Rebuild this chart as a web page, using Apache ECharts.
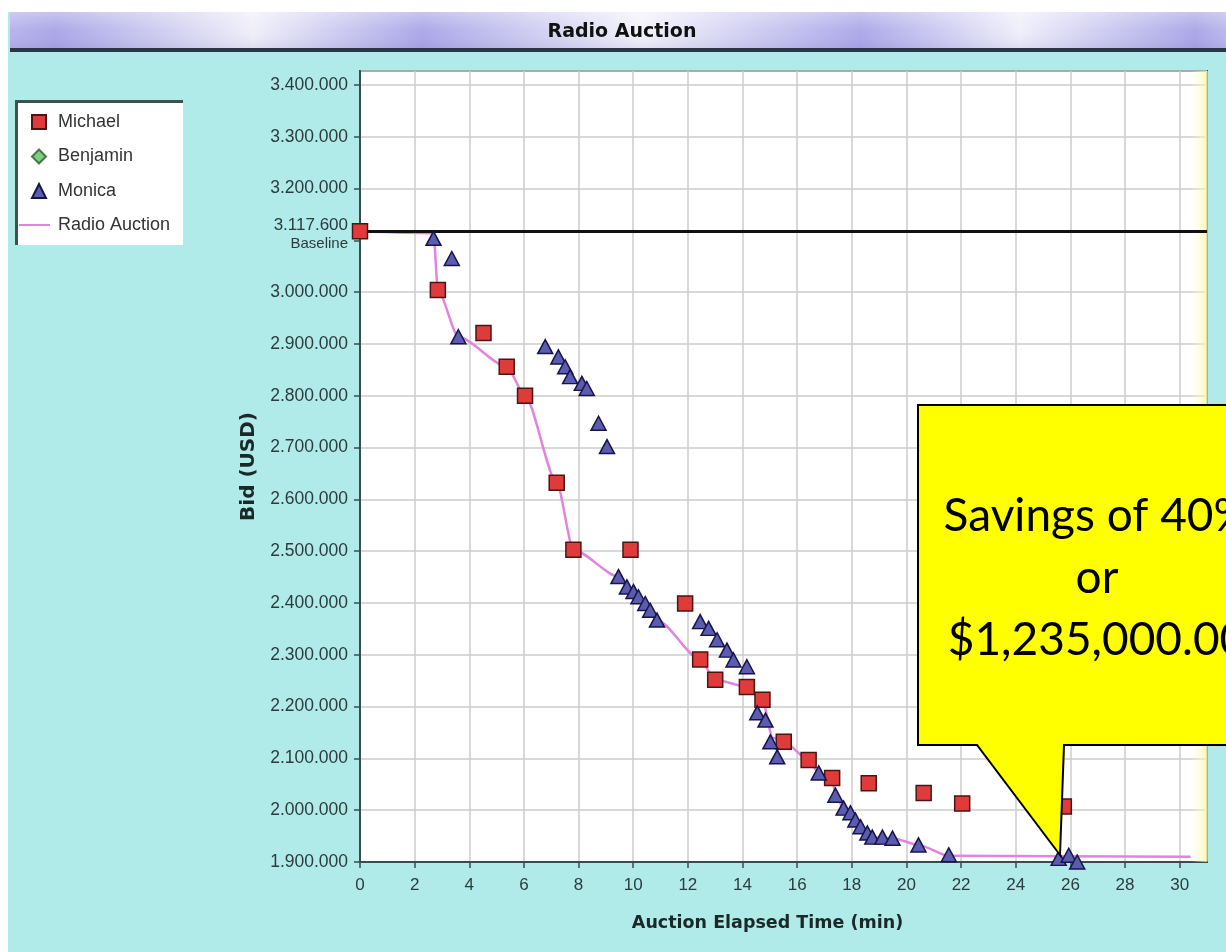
<!DOCTYPE html>
<html>
<head>
<meta charset="utf-8">
<script src="https://cdn.jsdelivr.net/npm/echarts@6/dist/echarts.min.js"></script>
<style>
html,body{margin:0;padding:0;background:#b0ebe9;}
#chart{width:1226px;height:952px;}
</style>
</head>
<body>
<div id="chart"></div>
<script>
// ---- data ----
const chartTitle = 'Radio Auction';
const seriesNames = ['Michael', 'Benjamin', 'Monica', 'Radio Auction'];
const baselineBid = 3117600;
const hiddenTick = 3100000; // tick hidden behind the baseline label in the reference
// [elapsed minutes, bid USD]
const michaelBids = [
  [0, 3117600], [2.85, 3004000], [4.52, 2921000], [5.37, 2856000], [6.04, 2800000],
  [7.2, 2632000], [7.81, 2503000], [9.9, 2503000], [11.9, 2399000], [12.45, 2291000],
  [13.0, 2252000], [14.16, 2238000], [14.73, 2213000], [15.51, 2132000], [16.42, 2097000],
  [17.28, 2062000], [18.62, 2052000], [20.63, 2033000], [22.04, 2013000], [25.76, 2007000]
];
const benjaminBids = [];
const monicaBids = [
  [2.69, 3104000], [3.36, 3065000], [3.6, 2914000], [6.78, 2895000], [7.26, 2875000],
  [7.51, 2856000], [7.69, 2837000], [8.12, 2824000], [8.3, 2814000], [8.73, 2747000],
  [9.04, 2702000], [9.46, 2451000], [9.77, 2431000], [10.01, 2422000], [10.19, 2412000],
  [10.44, 2399000], [10.62, 2386000], [10.87, 2367000], [12.45, 2364000], [12.76, 2351000],
  [13.07, 2329000], [13.43, 2309000], [13.67, 2290000], [14.16, 2277000], [14.54, 2188000],
  [14.84, 2174000], [15.02, 2132000], [15.27, 2103000], [16.79, 2072000], [17.4, 2029000],
  [17.7, 2004000], [17.95, 1995000], [18.13, 1981000], [18.32, 1968000], [18.57, 1956000],
  [18.75, 1948000], [19.12, 1948000], [19.49, 1946000], [20.44, 1933000], [21.55, 1914000],
  [25.57, 1907000], [25.94, 1913000], [26.25, 1900000]
];
const leadingBid = [
  [0, 3117600], [2.69, 3114000], [2.85, 3004000], [3.6, 2914000], [5.37, 2856000],
  [6.04, 2800000], [7.2, 2632000], [7.81, 2503000], [9.46, 2451000], [9.77, 2431000],
  [10.01, 2422000], [10.19, 2412000], [10.44, 2399000], [10.62, 2386000], [10.87, 2367000],
  [12.45, 2291000], [13.0, 2252000], [14.16, 2238000], [14.73, 2213000], [15.1, 2140000],
  [15.51, 2132000], [16.42, 2097000], [16.79, 2072000], [17.28, 2062000], [17.4, 2029000],
  [17.7, 2004000], [17.95, 1995000], [18.13, 1981000], [18.32, 1968000], [18.57, 1956000],
  [18.75, 1948000], [19.49, 1946000], [20.44, 1933000], [21.55, 1912000], [30.4, 1910000]
];
const xName = 'Auction Elapsed Time (min)';
const yName = 'Bid (USD)';
const calloutText = 'Savings of 40%\nor\n$1,235,000.00';

const yMin = 1900000, yMax = 3427000, yStep = 100000;

function dots(v) { return String(Math.round(v)).replace(/\B(?=(\d{3})+(?!\d))/g, '.'); }

// split line colours per tick index (the line under the baseline label is not drawn)
const ySplitColors = [];
for (let v = yMin; v <= yMax; v += yStep) ySplitColors.push(v === hiddenTick ? 'rgba(0,0,0,0)' : '#cdcdcd');
ySplitColors.push('#cdcdcd');

const chart = echarts.init(document.getElementById('chart'), null, {renderer: 'canvas'});
const labelColor = '#2c3c3c';
const legendText = {fontFamily: 'Liberation Sans', fontSize: 18, lineHeight: 20, color: '#333'};
const option = {
  animation: false,
  backgroundColor: '#b0ebe9',
  grid: {left: 360, right: 19, top: 71, bottom: 90, show: true, backgroundColor: '#ffffff',
         borderColor: '#3a4c4c', borderWidth: 2},
  legend: [
    {
      data: seriesNames.slice(0, 3), orient: 'vertical', left: 31, top: 112,
      itemWidth: 14, itemHeight: 14, itemGap: 14.5, padding: 0,
      textStyle: Object.assign({padding: [0, 0, 0, 7]}, legendText)
    },
    {
      data: [{name: seriesNames[3], icon: 'rect'}], orient: 'vertical', left: 19, top: 215,
      itemWidth: 31, itemHeight: 2, padding: 0,
      textStyle: Object.assign({padding: [0, 0, 0, 3]}, legendText)
    }
  ],
  xAxis: {
    type: 'value', min: 0, max: 31, interval: 2,
    name: xName, nameLocation: 'middle', nameGap: 52,
    nameTextStyle: {fontFamily: 'DejaVu Sans', fontWeight: 'bold', fontSize: 17.5, color: '#1b2828', padding: [0, 32, 0, 0]},
    axisLine: {lineStyle: {color: '#3a4c4c', width: 2}},
    axisTick: {length: 6, lineStyle: {color: '#3a4c4c', width: 1.5}},
    axisLabel: {showMaxLabel: false, margin: 15, fontFamily: 'Liberation Sans', fontSize: 17, color: labelColor},
    splitLine: {lineStyle: {color: '#cdcdcd', width: 1.5}}
  },
  yAxis: {
    type: 'value', min: yMin, max: yMax, interval: yStep,
    name: yName, nameLocation: 'middle', nameGap: 101,
    nameTextStyle: {fontFamily: 'DejaVu Sans', fontWeight: 'bold', fontSize: 20, color: '#1b2828'},
    axisLine: {show: true, lineStyle: {color: '#3a4c4c', width: 2}},
    axisTick: {show: true, length: 6, lineStyle: {color: '#3a4c4c', width: 1.5}},
    axisLabel: {showMaxLabel: false, margin: 12, fontFamily: 'Liberation Sans', fontSize: 17.5, color: labelColor,
                formatter: v => (v === hiddenTick ? '' : dots(v))},
    splitLine: {lineStyle: {color: ySplitColors, width: 1.5}}
  },
  series: [
    {
      name: seriesNames[0], type: 'scatter', data: michaelBids, z: 4,
      symbol: 'rect', symbolSize: 15,
      itemStyle: {color: '#e03b3b', borderColor: '#4a1515', borderWidth: 1.5, opacity: 1}
    },
    {
      name: seriesNames[1], type: 'scatter', data: benjaminBids, z: 4,
      symbol: 'diamond', symbolSize: 13,
      itemStyle: {color: '#5cc05c', borderColor: '#2a5a2a', borderWidth: 1}
    },
    {
      name: seriesNames[2], type: 'scatter', data: monicaBids, z: 5,
      symbol: 'triangle', symbolSize: [15, 14],
      itemStyle: {color: '#5b5cb0', borderColor: '#15154a', borderWidth: 1.5, opacity: 1}
    },
    {
      name: seriesNames[3], type: 'line', data: leadingBid, z: 2,
      symbol: 'none', smooth: 0.25, smoothMonotone: 'x',
      lineStyle: {color: '#e184e1', width: 2.5},
      itemStyle: {color: '#e184e1'},
      markArea: {
        silent: true,
        itemStyle: {color: {type: 'linear', x: 0, y: 0, x2: 1, y2: 0,
          colorStops: [{offset: 0, color: 'rgba(255,255,220,0)'}, {offset: 1, color: 'rgba(250,244,150,0.75)'}]}},
        data: [[{xAxis: 30.4}, {xAxis: 31}]]
      },
      markLine: {
        silent: true, symbol: ['none', 'none'], z: 3,
        lineStyle: {color: '#111', width: 3, type: 'solid'},
        label: {
          position: 'start', distance: 12, padding: [7, 0, 0, 0],
          formatter: '{a|' + dots(baselineBid) + '}\n{b|Baseline}',
          rich: {
            a: {fontFamily: 'Liberation Sans', fontSize: 17, color: labelColor, lineHeight: 18, align: 'right'},
            b: {fontFamily: 'Liberation Sans', fontSize: 15, color: labelColor, lineHeight: 18, align: 'right'}
          }
        },
        data: [{yAxis: baselineBid}]
      }
    }
  ],
  graphic: [
    // white margins
    {type: 'rect', shape: {x: 0, y: 0, width: 1226, height: 12}, style: {fill: '#ffffff'}, z: 1, silent: true},
    {type: 'rect', shape: {x: 0, y: 0, width: 8, height: 952}, style: {fill: '#ffffff'}, z: 1, silent: true},
    // title bar
    {type: 'rect', shape: {x: 10, y: 12, width: 1216, height: 37}, z: 1, silent: true,
     style: {fill: {type: 'linear', x: 0, y: 0, x2: 1, y2: 0, colorStops: [
       {offset: 0, color: '#b4b0ea'}, {offset: 0.037, color: '#a7a3e6'}, {offset: 0.2, color: '#efeef9'},
       {offset: 0.339, color: '#a8a4e7'}, {offset: 0.52, color: '#f3f2fb'}, {offset: 0.7, color: '#a9a5e8'},
       {offset: 0.83, color: '#efeefa'}, {offset: 0.975, color: '#a7a3e6'}, {offset: 1, color: '#b8b4eb'}]}}},
    {type: 'rect', shape: {x: 10, y: 12, width: 1216, height: 37}, z: 1, silent: true,
     style: {fill: {type: 'linear', x: 0, y: 0, x2: 0, y2: 1, colorStops: [
       {offset: 0, color: 'rgba(255,255,255,0.35)'}, {offset: 0.5, color: 'rgba(255,255,255,0.05)'},
       {offset: 1, color: 'rgba(120,120,180,0.15)'}]}}},
    {type: 'rect', shape: {x: 10, y: 48, width: 1216, height: 4}, style: {fill: '#2b3646'}, z: 1, silent: true},
    {type: 'text', x: 622, y: 32, z: 2, silent: true,
     style: {text: chartTitle, font: 'bold 19px "DejaVu Sans"', fill: '#111', align: 'center', verticalAlign: 'middle'}},
    // legend box
    {type: 'rect', shape: {x: 15, y: 100, width: 168, height: 145}, style: {fill: '#ffffff'}, z: 1, silent: true},
    {type: 'polyline', shape: {points: [[16.5, 245], [16.5, 101.5], [183, 101.5]]}, z: 1, silent: true,
     style: {stroke: '#3e5050', lineWidth: 3, fill: null}},
    // callout
    {type: 'polygon', z: 100, silent: true,
     shape: {points: [[918, 405], [1245, 405], [1245, 745], [1064, 745], [1060, 855], [977, 745], [918, 745]]},
     style: {fill: '#ffff00', stroke: '#000', lineWidth: 2}},
    {type: 'text', x: 1097, y: 578, z: 101, silent: true,
     style: {text: calloutText, font: '46px Lato', lineHeight: 62, fill: '#000', align: 'center', verticalAlign: 'middle'}}
  ]
};
chart.setOption(option);
</script>
</body>
</html>
